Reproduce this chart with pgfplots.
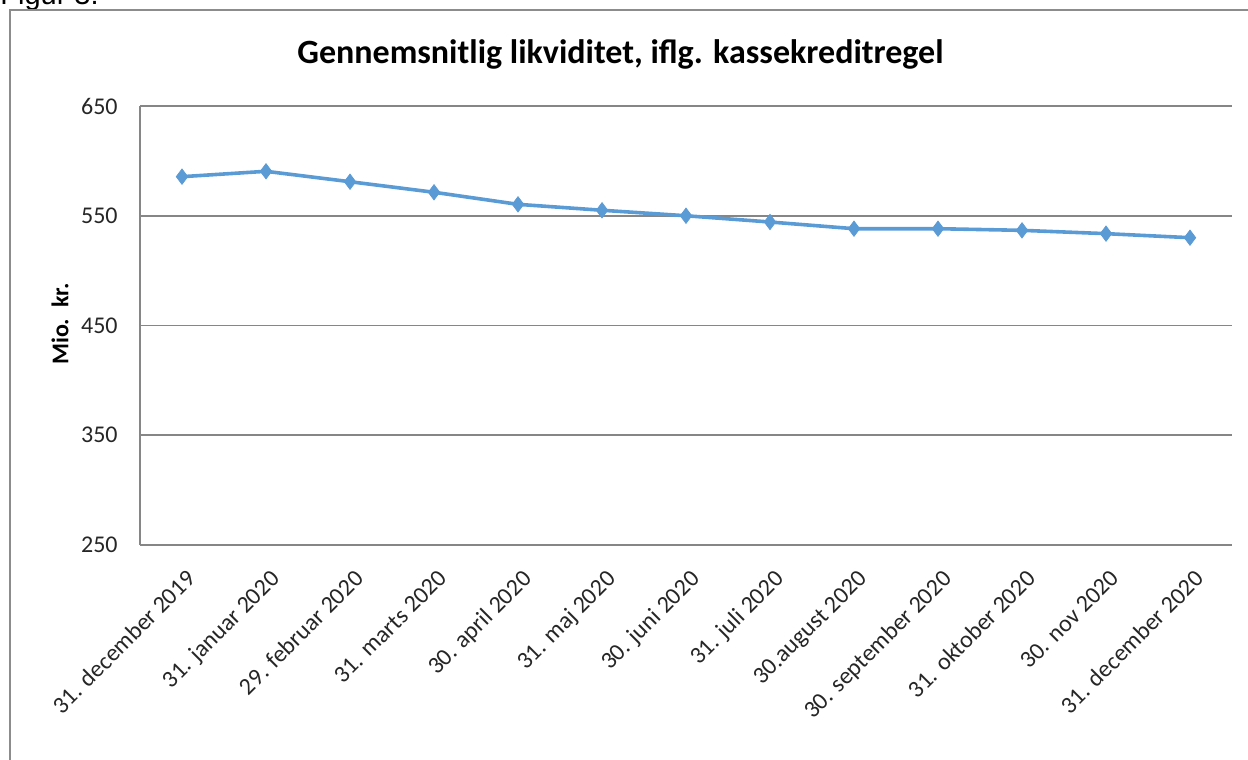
\documentclass[border=0pt]{standalone}
\usepackage{pgfplots}
\pgfplotsset{compat=1.18}
\usepackage{fontspec}
\setmainfont{Carlito}
\newfontfamily\arialfont{Liberation Sans}
\definecolor{lineblue}{RGB}{91,155,213}
\definecolor{gridgray}{RGB}{134,134,134}
\definecolor{framegray}{RGB}{140,140,140}
\begin{document}
\begin{tikzpicture}
\useasboundingbox (0pt,0pt) rectangle (624pt,380pt);
\node[anchor=base west, inner sep=0pt, font=\arialfont\fontsize{14.5}{17}\selectfont] at (0pt,377.5pt) {Figur 3.};
\draw[framegray, line width=0.75pt] (5pt,-5pt) -- (5pt,375pt) -- (630pt,375pt);
\begin{axis}[
  at={(70pt,107.5pt)}, anchor=south west,
  scale only axis, width=546pt, height=219.5pt,
  xmin=-0.5, xmax=12.5, ymin=250, ymax=650,
  ytick={250,350,450,550,650},
  xtick={0,...,12},
  xticklabels={31. december 2019,31. januar 2020,29. februar 2020,31. marts 2020,30. april 2020,31. maj 2020,30. juni 2020,31. juli 2020,30.august 2020,30. september 2020,31. oktober 2020,30. nov 2020,31. december 2020},
  axis lines*=left,
  axis line style={draw=gridgray, line width=0.75pt},
  ymajorgrids,
  major grid style={draw=gridgray, line width=0.75pt},
  major tick length=0pt,
  /pgf/number format/assume math mode=true,
  tick label style={font=\fontsize{12}{14}\selectfont, text=black!85},
  yticklabel style={inner sep=0pt, anchor=east, xshift=-11pt},
  xticklabel style={xshift=1.5pt, yshift=-11.5pt, rotate=45, anchor=north east, inner sep=0pt},
  ylabel={Mio.\ \ kr.},
  ylabel style={font=\bfseries\fontsize{12}{14}\selectfont, at={(axis description cs:-0.0733,0.503)}, anchor=center, inner sep=0pt},
  title={Gennemsnitlig likviditet, iflg. kassekreditregel},
  title style={font=\bfseries\fontsize{17}{20}\selectfont, at={(axis description cs:0.44,1.0706)}, anchor=base, inner sep=0pt},
  clip=false,
]
\addplot[color=lineblue, line width=1.8pt, mark=diamond*, mark size=3.8pt, mark options={fill=lineblue, draw=lineblue, line width=0.4pt}]
  coordinates {
    (0,585.6) (1,590.5) (2,581.0) (3,571.4) (4,560.4) (5,555.0) (6,550.0)
    (7,544.3) (8,538.2) (9,538.2) (10,536.7) (11,533.7) (12,530.0)
  };
\end{axis}
\end{tikzpicture}
\end{document}
